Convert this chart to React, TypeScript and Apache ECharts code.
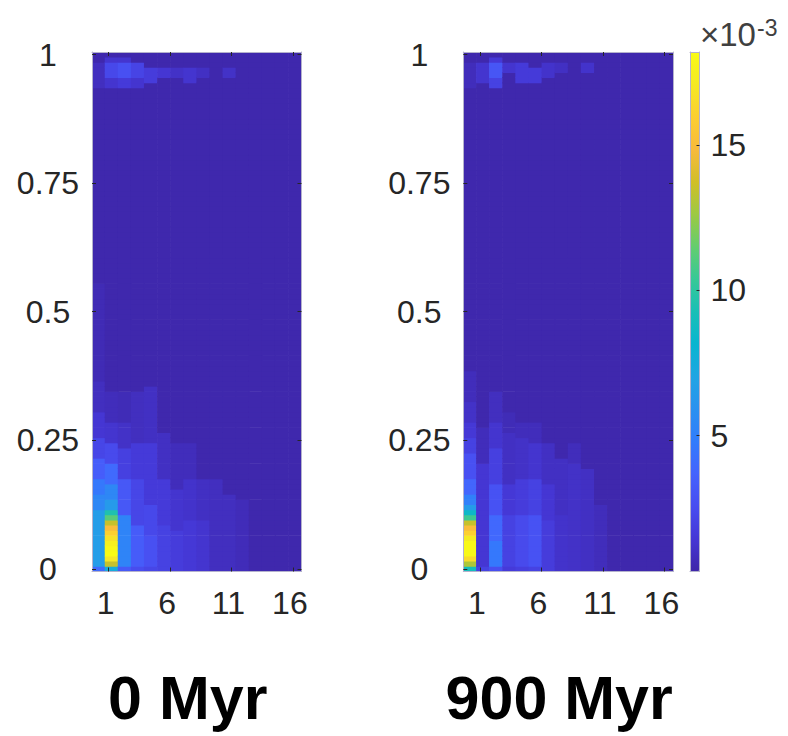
import React, { useEffect, useRef } from "react";
import * as echarts from "echarts";

// ---------- data (values in units of 1e-3) ----------
const X_CENTERS = [0.18, 1.25, 2.31, 3.38, 4.44, 5.51, 6.58, 7.64, 8.71, 9.77, 10.84, 11.9, 12.97, 14.03, 15.1, 16.17];
const X_BIN_WIDTH = 1.066;
const Y_BIN = 0.01;
const Y_ROW_COUNT = 101;
const X_TICKS = [1, 6, 11, 16];
const Y_TICKS = [0, 0.25, 0.5, 0.75, 1];
const CBAR_TICKS = [5, 10, 15];
const TITLES = ["0 Myr", "900 Myr"];
const CBAR_UNIT = ["×10", "-3"];
const C_MIN = 0.33;
const C_MAX = 18.2;

// per-column background level
const BASE_0MYR = [0.45, 0.45, 0.45, 0.45, 0.45, 0.45, 0.45, 0.45, 0.45, 0.45, 0.45, 0.45, 0.45, 0.45, 0.45, 0.45];
const BASE_900MYR = [0.45, 0.45, 0.45, 0.45, 0.45, 0.45, 0.45, 0.45, 0.45, 0.45, 0.45, 0.45, 0.45, 0.45, 0.45, 0.45];

// per column: [firstRow, lastRow, value]
const RUNS_0MYR = [
  [[0, 0, 4], [1, 11, 6.6], [12, 14, 5.4], [15, 17, 4.6], [18, 21, 3.4], [22, 25, 2.2], [26, 30, 1.4], [31, 36, 0.9], [37, 55, 0.65], [94, 98, 0.9]],
  [[0, 0, 7.5], [1, 1, 13.5], [2, 2, 17], [3, 3, 18.2], [4, 4, 18], [5, 5, 17.5], [6, 6, 16.8], [7, 7, 16], [8, 8, 15], [9, 9, 13.5], [10, 10, 11.2], [11, 11, 9.5], [12, 13, 6.4], [14, 16, 5.4], [17, 20, 4], [21, 24, 2.4], [25, 28, 1.3], [29, 34, 0.8], [94, 95, 1.3], [96, 98, 2.3], [99, 99, 1.3]],
  [[0, 0, 3.2], [1, 10, 5.2], [11, 17, 3.1], [18, 23, 1.9], [24, 28, 1.1], [29, 34, 0.7], [94, 95, 1.6], [96, 98, 2.7], [99, 99, 1.3]],
  [[0, 0, 2.5], [1, 8, 3.3], [9, 17, 2.2], [18, 24, 1.6], [25, 34, 0.9], [94, 95, 1.3], [96, 98, 2.1]],
  [[0, 0, 2.2], [1, 6, 2.7], [7, 12, 2.3], [13, 24, 1.6], [25, 35, 1.0], [95, 97, 1.7]],
  [[0, 8, 2.0], [9, 17, 1.6], [18, 26, 1.0], [96, 97, 1.4]],
  [[0, 7, 1.7], [8, 15, 1.3], [16, 24, 0.8], [96, 97, 1.1]],
  [[0, 9, 1.5], [10, 17, 1.2], [18, 24, 0.8], [95, 97, 1.3]],
  [[0, 9, 1.3], [10, 17, 1.0], [96, 97, 1.0]],
  [[0, 17, 0.9]],
  [[0, 14, 0.9], [96, 97, 1.1]],
  [[0, 13, 0.75]],
  [],
  [],
  [],
  [],
];

const RUNS_900MYR = [
  [[0, 0, 9], [1, 1, 13], [2, 2, 16.5], [3, 5, 18], [6, 6, 17.2], [7, 7, 16], [8, 8, 15], [9, 9, 13.5], [10, 10, 10.5], [11, 11, 8.5], [12, 12, 6.5], [13, 14, 5], [15, 17, 3.8], [18, 22, 2.7], [23, 25, 2.0], [26, 28, 1.5], [29, 32, 1.1], [33, 38, 0.8], [94, 98, 0.8]],
  [[0, 0, 2.0], [1, 20, 1.4], [21, 27, 0.8], [95, 98, 1.3]],
  [[0, 0, 2.6], [1, 5, 4.6], [6, 10, 3.9], [11, 16, 2.8], [17, 23, 1.9], [24, 28, 1.3], [29, 34, 0.9], [94, 95, 2.0], [96, 98, 3.0], [99, 99, 1.5]],
  [[0, 0, 1.6], [1, 10, 2.0], [11, 16, 1.5], [17, 26, 1.0], [27, 30, 0.7], [97, 98, 1.3]],
  [[0, 0, 1.8], [1, 10, 2.4], [11, 17, 1.7], [18, 25, 1.1], [26, 28, 0.8], [95, 98, 1.6]],
  [[0, 0, 2.0], [1, 10, 2.8], [11, 17, 2.0], [18, 24, 1.3], [25, 28, 0.8], [95, 97, 1.6]],
  [[0, 9, 1.7], [10, 16, 1.4], [17, 24, 1.0], [96, 98, 1.2]],
  [[0, 10, 1.2], [11, 21, 1.0], [97, 98, 1.0]],
  [[0, 20, 1.1], [21, 24, 0.8]],
  [[0, 19, 1.0], [97, 98, 1.2]],
  [[0, 12, 0.8]],
  [],
  [],
  [],
  [],
  [],
];

const PARULA = [
  "#3e26a8", "#4537d5", "#484df0", "#4563fd", "#327cfc", "#2b91ef", "#20a5e3", "#08b5d0",
  "#19bfb6", "#37c897", "#64cd6f", "#9dc943", "#d1bf27", "#f8ba3d", "#fccf30", "#f5e924", "#f9fb15",
];

// ---------- helpers ----------
const FONT = "'Liberation Sans', Arial, Helvetica, sans-serif";
const TEXT = "#262626";
const EDGE = "#b4b2cc";
const TICK_FONT = 32;

function buildCells(base: number[], runs: number[][][]) {
  const out: number[][] = [];
  X_CENTERS.forEach((xc, c) => {
    const col = new Array(Y_ROW_COUNT).fill(base[c]);
    runs[c].forEach(([r0, r1, v]) => {
      for (let r = r0; r <= r1; r++) col[r] = v;
    });
    col.forEach((v, r) => out.push([xc, r * Y_BIN, v]));
  });
  return out;
}

function renderCell(_params: any, api: any) {
  const p = api.coord([api.value(0), api.value(1)]);
  const s = api.size([X_BIN_WIDTH, Y_BIN]);
  const color = api.visual("color");
  const pad = 0.35; // overlap neighbouring cells slightly to avoid seams
  return {
    type: "rect",
    shape: { x: p[0] - s[0] / 2 - pad, y: p[1] - s[1] / 2 - pad, width: s[0] + 2 * pad, height: s[1] + 2 * pad },
    style: { fill: color },
  };
}

const fmt = (v: number) => `${+Number(v).toFixed(2)}`;

export default function App() {
  const ref = useRef<HTMLDivElement>(null);

  useEffect(() => {
    if (!ref.current) return;
    const chart = echarts.init(ref.current, undefined, { renderer: "svg" });

    const grids = [
      { left: 92, top: 52, width: 209.5, height: 519.5 },
      { left: 463.3, top: 52, width: 209.7, height: 519.5 },
      { left: 690, top: 52, width: 9.5, height: 519.5 },
    ];

    const line = { show: true, onZero: false, lineStyle: { color: EDGE, width: 1 } };

    const xAxes: any[] = [];
    const yAxes: any[] = [];
    [0, 1].forEach((g) => {
      xAxes.push({
        gridIndex: g,
        type: "value",
        min: -0.35,
        max: 16.7,
        position: "bottom",
        z: 10,
        axisLine: line,
        axisTick: { show: true, inside: true, length: 4, customValues: X_TICKS, lineStyle: { color: TEXT, width: 1 } },
        axisLabel: { show: true, customValues: X_TICKS, formatter: fmt, fontSize: TICK_FONT, fontFamily: FONT, color: TEXT, margin: 15, padding: [0, 6, 0, 0] },
        splitLine: { show: false },
        name: TITLES[g],
        nameLocation: "middle",
        nameGap: 96,
        nameTextStyle: { fontSize: 61, fontWeight: "bold", fontFamily: FONT, color: "#000", padding: [0, 18, 0, 0] },
      });
      xAxes.push({
        gridIndex: g,
        type: "value",
        min: -0.35,
        max: 16.7,
        position: "top",
        z: 10,
        axisLine: line,
        axisTick: { show: true, inside: true, length: 4, customValues: X_TICKS, lineStyle: { color: TEXT, width: 1 } },
        axisLabel: { show: false },
        splitLine: { show: false },
      });
      yAxes.push({
        gridIndex: g,
        type: "value",
        min: -0.005,
        max: 1.005,
        position: "left",
        z: 10,
        axisLine: line,
        axisTick: { show: true, inside: true, length: 4, customValues: Y_TICKS, lineStyle: { color: TEXT, width: 1 } },
        axisLabel: { show: true, customValues: Y_TICKS, formatter: fmt, fontSize: TICK_FONT, fontFamily: FONT, color: TEXT, margin: 44, align: "center" },
        splitLine: { show: false },
      });
      yAxes.push({
        gridIndex: g,
        type: "value",
        min: -0.005,
        max: 1.005,
        position: "right",
        z: 10,
        axisLine: line,
        axisTick: { show: true, inside: true, length: 4, customValues: Y_TICKS, lineStyle: { color: TEXT, width: 1 } },
        axisLabel: { show: false },
        splitLine: { show: false },
      });
    });

    // colour bar axes (grid 2)
    xAxes.push({
      gridIndex: 2, type: "value", min: 0, max: 1, position: "bottom", z: 10,
      axisLine: line, axisTick: { show: false }, axisLabel: { show: false }, splitLine: { show: false },
    });
    xAxes.push({
      gridIndex: 2, type: "value", min: 0, max: 1, position: "top", z: 10,
      axisLine: line, axisTick: { show: false }, axisLabel: { show: false }, splitLine: { show: false },
    });
    yAxes.push({
      gridIndex: 2, type: "value", min: C_MIN, max: C_MAX, position: "right", z: 10,
      axisLine: line,
      axisTick: { show: true, inside: true, length: 3, customValues: CBAR_TICKS, lineStyle: { color: TEXT } },
      axisLabel: { show: true, customValues: CBAR_TICKS, formatter: fmt, fontSize: TICK_FONT, fontFamily: FONT, color: TEXT, margin: 11 },
      splitLine: { show: false },
    });
    yAxes.push({
      gridIndex: 2, type: "value", min: C_MIN, max: C_MAX, position: "left", z: 10,
      axisLine: line, axisTick: { show: false }, axisLabel: { show: false }, splitLine: { show: false },
    });

    const option: any = {
      animation: false,
      backgroundColor: "#ffffff",
      grid: grids,
      xAxis: xAxes,
      yAxis: yAxes,
      graphic: [
        {
          type: "text",
          left: 700,
          top: 16,
          style: {
            text: `{m|${CBAR_UNIT[0]}}{e|${CBAR_UNIT[1]}}`,
            rich: {
              m: { fontSize: 33, fontFamily: FONT, fill: "#404040" },
              e: { fontSize: 23, fontFamily: FONT, fill: "#404040", padding: [0, 0, 14, 1] },
            },
          },
        },
      ],
      visualMap: {
        type: "continuous",
        min: C_MIN,
        max: C_MAX,
        dimension: 2,
        seriesIndex: [0, 1],
        inRange: { color: PARULA },
        left: 690,
        top: 52,
        itemWidth: 9.5,
        itemHeight: 519.5,
        padding: 0,
        calculable: false,
        hoverLink: false,
        z: 2,
      },
      series: [
        {
          type: "custom",
          name: TITLES[0],
          xAxisIndex: 0,
          yAxisIndex: 0,
          clip: true,
          renderItem: renderCell,
          encode: { x: 0, y: 1 },
          data: buildCells(BASE_0MYR, RUNS_0MYR),
        },
        {
          type: "custom",
          name: TITLES[1],
          xAxisIndex: 2,
          yAxisIndex: 2,
          clip: true,
          renderItem: renderCell,
          encode: { x: 0, y: 1 },
          data: buildCells(BASE_900MYR, RUNS_900MYR),
        },
      ],
    };

    chart.setOption(option);
    return () => chart.dispose();
  }, []);

  return (
    <div
      ref={ref}
      style={{ position: "fixed", left: 0, top: 0, width: 788, height: 736, background: "#fff" }}
    />
  );
}
